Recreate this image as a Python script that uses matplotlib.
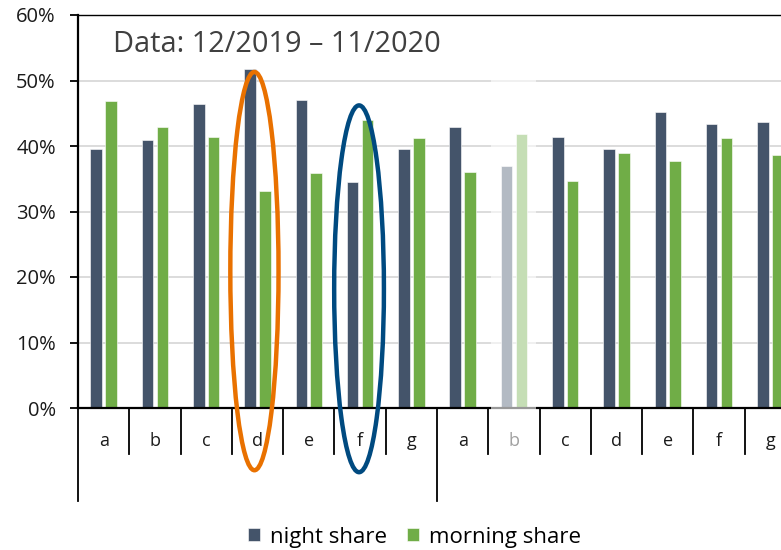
import numpy as np
import matplotlib.pyplot as plt
from matplotlib.patches import Ellipse, Rectangle

plt.rcParams['font.family'] = ['Open Sans', 'DejaVu Sans']

# categories: two groups of seven
categories = ['a', 'b', 'c', 'd', 'e', 'f', 'g'] * 2
night_share = [39.6, 40.9, 46.4, 51.8, 47.0, 34.5, 39.6,
               42.9, 36.9, 41.4, 39.5, 45.2, 43.3, 43.7]
morning_share = [46.8, 42.9, 41.4, 33.1, 35.9, 44.0, 41.2,
                 36.1, 41.8, 34.7, 39.0, 37.7, 41.2, 38.6]
faded_idx = 8          # second "b" is greyed out
yticks = [0, 10, 20, 30, 40, 50, 60]

night_col = '#44546A'
morning_col = '#70AD47'

fig = plt.figure(figsize=(7.81, 5.5), dpi=100)
ax = fig.add_axes([78 / 781, 142 / 550, 718 / 781, 393 / 550])

n = len(categories)
x = np.arange(n) + 0.5
w = 0.225
off = 0.145
ax.bar(x - off, night_share, w, color=night_col, edgecolor='white', linewidth=0.4, zorder=2,
       label='night share')
ax.bar(x + off, morning_share, w, color=morning_col, edgecolor='white', linewidth=0.4, zorder=2,
       label='morning share')

ax.set_xlim(0, n)
ax.set_ylim(0, 60)
ax.set_yticks(yticks)
ax.set_yticklabels([f'{v}%' for v in yticks], fontsize=14.5, color='#1a1a1a')
ax.tick_params(axis='y', length=6, width=1.3, color='black', pad=10)
for v in yticks[1:-1]:
    ax.axhline(v, color='#D9D9D9', linewidth=1.3, zorder=1)

for s in ['left', 'bottom', 'top']:
    ax.spines[s].set_color('black')
ax.spines['left'].set_linewidth(1.6)
ax.spines['bottom'].set_linewidth(1.6)
ax.spines['top'].set_linewidth(1.0)
ax.spines['right'].set_visible(False)

# x axis: category labels and separator lines below the axis
ax.set_xticks([])
tr = ax.get_xaxis_transform()
for i, c in enumerate(categories):
    ax.text(i + 0.5, -0.084, c, transform=tr, ha='center', va='center', fontsize=13,
            color='#A0A0A0' if i == faded_idx else '#1a1a1a')
for b in range(n + 1):
    depth = -0.237 if b % 7 == 0 else -0.117
    ax.plot([b, b], [0, depth], transform=tr, color='black', linewidth=1.3, clip_on=False)

# grey-out overlay on the faded category
ax.add_patch(Rectangle((faded_idx + 0.06, -0.4), 0.88, 55.4, facecolor='white', alpha=0.6,
                       edgecolor='none', zorder=3, clip_on=False))

# highlight ellipses
ax.add_patch(Ellipse((3.44, 20.9), 0.94, 60.8, fill=False, edgecolor='#E97100', linewidth=3.2,
                     zorder=4, clip_on=False))
ax.add_patch(Ellipse((5.48, 18.2), 0.97, 56.0, fill=False, edgecolor='#004A80', linewidth=3.2,
                     zorder=4, clip_on=False))

ax.text(0.049, 0.924, 'Data: 12/2019 \u2013 11/2020', transform=ax.transAxes, fontsize=20.8,
        color='#404040', va='center', ha='left')

fig.legend(loc='center', bbox_to_anchor=(0.531, 13 / 550), ncol=2, frameon=False, fontsize=16,
           handlelength=0.55, handleheight=0.55, handletextpad=0.45, columnspacing=0.9)

fig.savefig('out.png', dpi=100)
